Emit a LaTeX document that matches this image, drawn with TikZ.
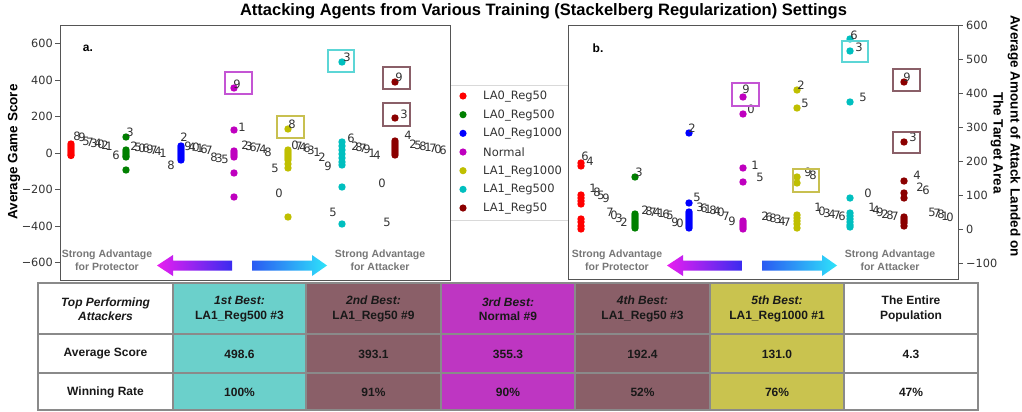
\documentclass[tikz,border=0pt]{standalone}
\usepackage{fontspec}
\setmainfont{Liberation Sans}
\newfontfamily\dvs{DejaVu Sans}
\definecolor{cred}{HTML}{FF0000}
\definecolor{cgreen}{HTML}{008000}
\definecolor{cblue}{HTML}{0000FF}
\definecolor{cmag}{HTML}{BF00BF}
\definecolor{colive}{HTML}{BFBF00}
\definecolor{ccyan}{HTML}{00BFBF}
\definecolor{cdred}{HTML}{8B0000}
\definecolor{bmag}{HTML}{C455D4}
\definecolor{bolive}{HTML}{C8C050}
\definecolor{bcyan}{HTML}{5CD6D6}
\definecolor{bdred}{HTML}{8A5F68}
\definecolor{tcyan}{HTML}{6BD0CB}
\definecolor{tmauve}{HTML}{8A5F68}
\definecolor{tmag}{HTML}{BE36C2}
\definecolor{tolive}{HTML}{C9C34F}
\definecolor{txt}{HTML}{333333}
\definecolor{framec}{HTML}{555555}
\definecolor{advc}{HTML}{777777}
\definecolor{tline}{HTML}{8A8A8A}
\definecolor{amag}{HTML}{E91EF0}
\definecolor{ablue}{HTML}{3A2CF0}
\definecolor{bblue}{HTML}{2A5AF2}
\definecolor{bcy}{HTML}{2FE3FA}
\newcommand\ptsat[3]{\foreach \yy in {#3} \fill[#1] (#2,\yy) circle[radius=3.7pt];}
\newcommand\labsat[1]{\foreach \dd/\xx/\yy in {#1} \node[lab] at (\xx,\yy) {\dd};}
\begin{document}
\begin{tikzpicture}[x=1pt,y=-1pt,
  lab/.style={font=\dvs\fontsize{11.5}{11.5}\selectfont, text=txt, inner sep=0pt},
  ticklab/.style={font=\dvs\fontsize{11.3}{11.3}\selectfont, text=txt, inner sep=0pt},
  frame/.style={draw=framec, line width=1pt},
  hl/.style={line width=1.3pt},
  adv/.style={font=\bfseries\fontsize{10.5}{13}\selectfont, text=advc, align=center, inner sep=0pt},
  cell/.style={font=\bfseries\fontsize{12}{14.5}\selectfont, text=black!90, align=center, inner sep=0pt},
  axlab/.style={font=\bfseries\fontsize{13.5}{16}\selectfont, inner sep=0pt},
  leg/.style={font=\dvs\fontsize{11.5}{12}\selectfont, text=txt, anchor=west, inner sep=0pt}
]
\useasboundingbox (0,0) rectangle (1022,412);
\fill[white] (0,0) rectangle (1022,412);

% title
\node[font=\bfseries\fontsize{16.5}{19}\selectfont, inner sep=0pt] (title) at (543.5,11) {Attacking Agents from Various Training (Stackelberg Regularization) Settings};

% ---------- legend (behind plot b)
\draw[black!15, line width=1pt] (450,85) -- (568,85) (450,220) -- (568,220);
\foreach \c/\t [count=\k from 0] in {cred/LA0\_Reg50, cgreen/LA0\_Reg500, cblue/LA0\_Reg1000, cmag/Normal, colive/LA1\_Reg1000, ccyan/LA1\_Reg500, cdred/LA1\_Reg50}{
  \fill[\c] (463,96+18.67*\k) circle[radius=3.6pt];
  \node[leg] (leg\k) at (483,96.5+18.67*\k) {\t};
}

% ---------- plot a
\fill[white] (60,26) rectangle (450,280);
\draw[frame] (60,26) rectangle (450,280);
\foreach \v/\t in {600/600,400/400,200/200,0/0,-200/−200,-400/−400,-600/−600}{
  \draw[framec, line width=0.8pt] (55,153-\v*0.1825) -- (60,153-\v*0.1825);
  \node[ticklab, anchor=east] at (53,153-\v*0.1825) {\t};
}
\node[axlab, rotate=90] (ylab) at (14,152) {Average Game Score};
\node[font=\bfseries\fontsize{12}{12}\selectfont, inner sep=0pt] (la) at (88,48) {a.};

\ptsat{cred}{71}{144,146,148,150,152,154,155.5}
\ptsat{cgreen}{126}{137,150,152,154,156,157,170}
\ptsat{cblue}{181}{146,148,150,152,154,156,158,160}
\ptsat{cmag}{234}{88,130,151,153,155,157,173,197}
\ptsat{colive}{288}{129,150,152,154,156,158,160,164,168,217}
\ptsat{ccyan}{342}{62,142,146,150,154,158,162,165,187,224}
\ptsat{cdred}{395}{82,118,141,143,145,147,149,151,153,155}

\labsat{8/77/136,9/82/137,5/86/141,7/90/142,3/94/143,4/98/143,0/101/144,2/105/145,1/109/146,6/116/155}
\labsat{3/130/132,2/134/146,5/138/147,0/142/148,6/146/148,9/150/149,7/154/150,4/158/151,1/163/153,8/171/165}
\labsat{2/184/137,9/188/146,4/192/147,0/196/147,1/200/148,6/204/149,7/209/150,8/214/157,3/219/158,5/225/159}
\labsat{9/237/84,1/242/127,2/245/145,3/249/146,6/253/147,7/258/148,4/263/149,8/268/152,5/275/168,0/279/193}
\labsat{8/292/124,0/295/145,7/299/146,4/303/147,6/307/148,3/311/150,1/317/152,2/322/157,9/328/166,5/333/212}
\labsat{3/347/57,6/351/138,2/355/146,8/359/147,7/363/148,9/367/149,1/372/153,4/377/155,0/382/183,5/387/222}
\labsat{9/399/77,3/404/114,4/408/135,2/413/144,5/418/145,8/423/146,1/428/147,7/433/148,0/438/149,6/443/150}

\draw[bmag, hl] (225,72) rectangle (252,94);
\draw[bolive, hl] (277,116) rectangle (304,138);
\draw[bcyan, hl] (328,50) rectangle (354,72);
\draw[bdred, hl] (383,67) rectangle (410,89);
\draw[bdred, hl] (383,103) rectangle (410,126);

% ---------- plot b
\fill[white] (568,26) rectangle (958,279);
\draw[frame] (568,26) rectangle (958,279);
\foreach \v/\t in {600/600,500/500,400/400,300/300,200/200,100/100,0/0,-100/−100}{
  \draw[framec, line width=0.8pt] (958,229-\v*0.34) -- (963,229-\v*0.34);
  \node[ticklab, anchor=west] at (966,229-\v*0.34) {\t};
}
\node[axlab, rotate=-90] (ylab1) at (1014,136) {Average Amount of Attack Landed on};
\node[axlab, rotate=-90] (ylab2) at (997,143) {The Target Area};
\node[font=\bfseries\fontsize{12}{12}\selectfont, inner sep=0pt] (lb) at (598,48) {b.};

\ptsat{cred}{581}{163,166,195,198,201,204,219,222,226,229}
\ptsat{cgreen}{635}{177,214,216,218,220,222,224,226,228}
\ptsat{cblue}{689}{133,203,212,214,216,218,220,222,224,226,228}
\ptsat{cmag}{743}{97,114,168,182,221,223,225,227,229}
\ptsat{colive}{797}{90,108,177,183,215,218,221,224,228}
\ptsat{ccyan}{850}{39,51,102,198,213,216,219,222,225,227}
\ptsat{cdred}{904}{82,142,181,193,198,217,219,221,223,226}

\labsat{6/585/156,4/590/161,1/593/188,8/597/192,5/601/195,9/606/198,7/610/212,0/614/215,3/619/218,2/624/222}
\labsat{3/639/172,2/645/210,8/649/211,7/653/212,4/657/212,1/661/213,6/666/214,5/670/215,9/675/222,0/680/223}
\labsat{2/692/128,5/697/197,3/700/207,6/704/208,1/708/209,8/713/210,4/717/211,0/721/212,7/726/216,9/732/221}
\labsat{9/746/89,0/751/109,1/755/165,5/760/177,2/765/216,6/769/217,8/773/218,3/778/219,4/782/221,7/787/222}
\labsat{2/801/85,5/805/103,9/808/172,8/813/175,1/818/207,0/822/211,3/827/213,4/832/214,7/837/215,6/842/216}
\labsat{6/854/35,3/859/47,5/863/97,0/868/193,1/872/207,4/876/210,9/880/212,2/885/214,8/890/215,7/895/216}
\labsat{9/907/77,3/913/137,4/917/175,2/920/187,6/926/190,5/932/212,7/937/213,8/941/214,1/945/216,0/950/217}

\draw[bmag, hl] (732,83) rectangle (759,106);
\draw[bolive, hl] (793,169) rectangle (819,192);
\draw[bcyan, hl] (842,41) rectangle (868,62);
\draw[bdred, hl] (893,69) rectangle (920,91);
\draw[bdred, hl] (893,132) rectangle (920,153);

% ---------- advantage arrows (a and b)
\foreach \s/\n in {0/a,510/b}{
\begin{scope}[xshift=\s pt]
  \node[adv] (prot\n) at (107,260) {Strong Advantage\\for Protector};
  \node[adv] (att\n) at (380,260) {Strong Advantage\\for Attacker};
  \shade[left color=amag, right color=ablue] (157,265.5) -- (173,255) -- (173,260.5) -- (232,260.5) -- (232,270.5) -- (173,270.5) -- (173,276) -- cycle;
  \shade[left color=bblue, right color=bcy] (252,260.5) -- (312,260.5) -- (312,255) -- (327,265.5) -- (312,276) -- (312,270.5) -- (252,270.5) -- cycle;
\end{scope}
}

% ---------- table
\foreach \xa/\xb/\c in {38/173/white,173/306/tcyan,306/441/tmauve,441/575/tmag,575/710/tmauve,710/844/tolive,844/978/white}
  \fill[\c] (\xa,283) rectangle (\xb,410);
\foreach \xx in {173,306,441,575,710,844} \draw[tline, line width=1.1pt] (\xx,283) -- (\xx,410);
\foreach \yy in {334,373} \draw[tline, line width=1.1pt] (38,\yy) -- (978,\yy);
\draw[tline, line width=1.2pt] (38,283) rectangle (978,410);

\node[cell] (h0) at (105.5,309) {\textit{Top Performing}\\\textit{Attackers}};
\node[cell] (h1) at (239.5,309) {\textit{1st Best:}\\LA1\_Reg500 \#3};
\node[cell] (h2) at (373.5,309) {\textit{2nd Best:}\\LA1\_Reg50 \#9};
\node[cell] (h3) at (508,309) {\textit{3rd Best:}\\Normal \#9};
\node[cell] (h4) at (642.5,309) {\textit{4th Best:}\\LA1\_Reg50 \#3};
\node[cell] (h5) at (777,309) {\textit{5th Best:}\\LA1\_Reg1000 \#1};
\node[cell] (h6) at (911,309) {The Entire\\Population};

\foreach \xx/\t [count=\k] in {105.5/Average Score,239.5/498.6,373.5/393.1,508/355.3,642.5/192.4,777/131.0,911/4.3}
  \node[cell] (s\k) at (\xx,354) {\t};
\foreach \xx/\t [count=\k] in {105.5/Winning Rate,239.5/100\%,373.5/91\%,508/90\%,642.5/52\%,777/76\%,911/47\%}
  \node[cell] (w\k) at (\xx,392) {\t};
\end{tikzpicture}
\end{document}
